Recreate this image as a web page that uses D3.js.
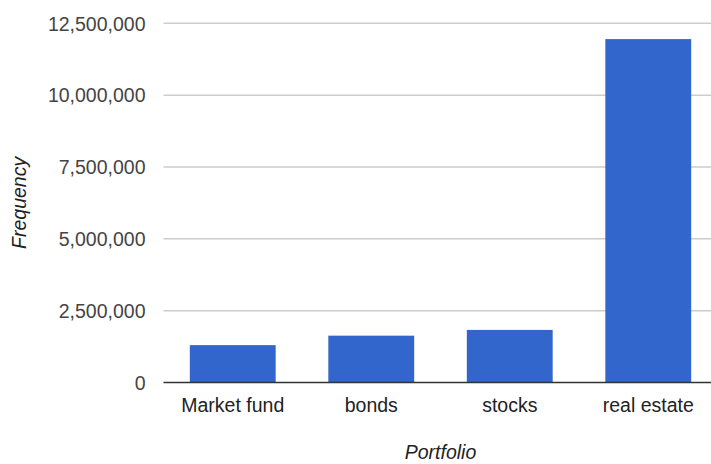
<!DOCTYPE html>
<html>
<head>
<meta charset="utf-8">
<script src="https://cdn.jsdelivr.net/npm/d3@7"></script>
<style>
  html, body { margin: 0; padding: 0; background: #fff; }
  svg { display: block; font-family: "Liberation Sans", Arial, sans-serif; }
</style>
</head>
<body>
<svg id="chart" width="711" height="464"></svg>
<script>
// Portfolio frequencies
const categories = ["Market fund", "bonds", "stocks", "real estate"];
const values = [1300000, 1630000, 1830000, 11950000];
const yTicks = [0, 2500000, 5000000, 7500000, 10000000, 12500000];

const svg = d3.select("#chart");
const W = 711, H = 464;
const plot = { left: 163.5, right: 717.5, top: 23.3, bottom: 382.5 };

const x = d3.scaleBand()
  .domain(categories)
  .range([plot.left, plot.right])
  .paddingInner(0.38)
  .paddingOuter(0.19);

const y = d3.scaleLinear()
  .domain([0, 12500000])
  .range([plot.bottom, plot.top]);

const fmt = d3.format(",");

// gridlines
svg.append("g")
  .selectAll("line")
  .data(yTicks.filter(d => d !== 0))
  .join("line")
  .attr("x1", plot.left)
  .attr("x2", W)
  .attr("y1", d => y(d))
  .attr("y2", d => y(d))
  .attr("stroke", "#cccccc")
  .attr("stroke-width", 1.5);

// y-axis labels
const yAxis = d3.axisLeft(y).tickValues(yTicks).tickFormat(fmt).tickSize(0).tickPadding(18);
const gy = svg.append("g").attr("transform", `translate(${plot.left},0)`).call(yAxis);
gy.select(".domain").remove();
gy.selectAll("text")
  .attr("fill", "#444444")
  .attr("font-size", "19.5px")
  .attr("font-family", "Liberation Sans, Arial, sans-serif")
  .attr("dy", "0.35em");

// bars
svg.append("g")
  .selectAll("rect")
  .data(categories.map((c, i) => ({ c, v: values[i] })))
  .join("rect")
  .attr("x", d => x(d.c))
  .attr("width", x.bandwidth())
  .attr("y", d => y(d.v))
  .attr("height", d => y(0) - y(d.v))
  .attr("fill", "#3366cc");

// baseline
svg.append("line")
  .attr("x1", plot.left)
  .attr("x2", W)
  .attr("y1", y(0))
  .attr("y2", y(0))
  .attr("stroke", "#333333")
  .attr("stroke-width", 1.5);

// x-axis labels
const xAxis = d3.axisBottom(x).tickSize(0).tickPadding(16);
const gx = svg.append("g").attr("transform", `translate(0,${plot.bottom})`).call(xAxis);
gx.select(".domain").remove();
gx.selectAll("text")
  .attr("fill", "#222222")
  .attr("font-size", "19.5px")
  .attr("font-family", "Liberation Sans, Arial, sans-serif");

// axis titles
svg.append("text")
  .attr("x", (plot.left + plot.right) / 2)
  .attr("y", 459)
  .attr("text-anchor", "middle")
  .attr("font-size", "19.5px")
  .attr("font-style", "italic")
  .attr("fill", "#222222")
  .text("Portfolio");

svg.append("text")
  .attr("transform", `translate(26,${(plot.top + plot.bottom) / 2}) rotate(-90)`)
  .attr("text-anchor", "middle")
  .attr("font-size", "19.5px")
  .attr("font-style", "italic")
  .attr("fill", "#222222")
  .text("Frequency");
</script>
</body>
</html>
